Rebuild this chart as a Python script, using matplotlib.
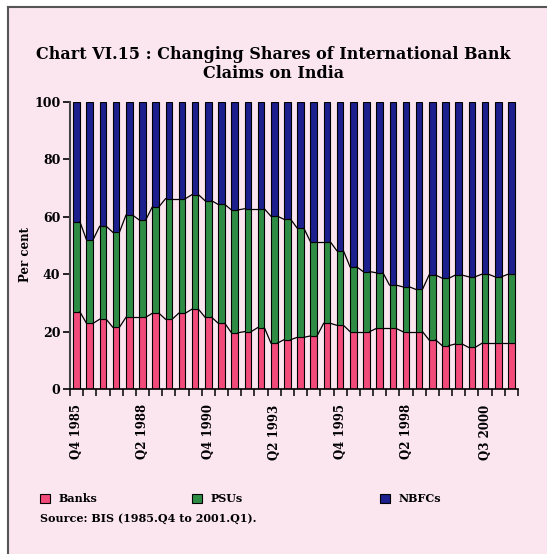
import matplotlib
matplotlib.use("Agg")
import matplotlib.pyplot as plt
from matplotlib.patches import Rectangle
from matplotlib.lines import Line2D
import numpy as np

# ---- data ----
periods = ["Q4 1985", "Q2 1986", "Q4 1986", "Q2 1987", "Q4 1987", "Q2 1988", "Q4 1988",
           "Q2 1989", "Q4 1989", "Q2 1990", "Q4 1990", "Q2 1991", "Q4 1991", "Q2 1992",
           "Q4 1992", "Q2 1993", "Q4 1993", "Q2 1994", "Q4 1994", "Q2 1995", "Q4 1995",
           "Q2 1996", "Q4 1996", "Q2 1997", "Q4 1997", "Q2 1998", "Q4 1998", "Q2 1999",
           "Q4 1999", "Q1 2000", "Q2 2000", "Q3 2000", "Q4 2000", "Q1 2001"]
banks = [26.9, 22.9, 24.3, 21.5, 25.0, 25.0, 26.4, 24.3, 26.4, 27.8, 25.0, 22.9,
         19.6, 20.0, 21.4, 16.0, 17.2, 18.0, 18.5, 22.9, 22.2, 20.0, 20.0, 21.1,
         21.1, 20.0, 20.0, 17.1, 15.1, 15.7, 14.5, 15.9, 15.9, 15.9]
banks_plus_psus = [58.3, 52.0, 56.7, 54.6, 60.6, 58.9, 63.5, 66.3, 66.3, 67.7, 65.6, 64.3,
                   62.4, 62.8, 62.8, 60.2, 59.1, 56.0, 51.3, 51.3, 48.2, 42.6, 40.9, 40.5,
                   36.2, 35.6, 34.7, 39.7, 38.6, 39.7, 39.1, 40.0, 39.1, 40.0]
psus = [round(t - b, 1) for t, b in zip(banks_plus_psus, banks)]
nbfcs = [round(100 - t, 1) for t in banks_plus_psus]
labelled = ["Q4 1985", "Q2 1988", "Q4 1990", "Q2 1993", "Q4 1995", "Q2 1998", "Q3 2000"]
series_names = ["Banks", "PSUs", "NBFCs"]

title = "Chart VI.15 : Changing Shares of International Bank\nClaims on India"
source = "Source: BIS (1985.Q4 to 2001.Q1)."

# ---- style ----
BG = "#fbe6ef"
C_BANK = "#f24a7a"
C_PSU = "#2f8c45"
C_NBFC = "#1d1f8e"
SERIF = ["DejaVu Serif"]

W, H = 547, 554
fig = plt.figure(figsize=(W / 100, H / 100), dpi=100)
fig.patch.set_facecolor("white")

# background panel with frame on left/top
fig.patches.append(Rectangle((8 / W, 0), 1 - 8 / W, 1 - 7 / H, transform=fig.transFigure,
                             facecolor=BG, edgecolor="none", zorder=-10))
fig.lines.append(Line2D([8 / W, 8 / W], [0, 1 - 7 / H], transform=fig.transFigure,
                        color="#555555", lw=1.5, zorder=-5))
fig.lines.append(Line2D([8 / W, 1], [1 - 7 / H, 1 - 7 / H], transform=fig.transFigure,
                        color="#555555", lw=1.5, zorder=-5))

ax = fig.add_axes([70 / W, 1 - 389 / H, (518 - 70) / W, (389 - 102) / H])
ax.set_zorder(1)
ax.set_facecolor("none")

n = len(periods)
x = np.arange(n)
bw = 0.5
ax.bar(x, banks, bw, color=C_BANK, edgecolor="black", lw=0.8, zorder=2)
ax.bar(x, psus, bw, bottom=banks, color=C_PSU, edgecolor="black", lw=0.8, zorder=2)
ax.bar(x, nbfcs, bw, bottom=banks_plus_psus, color=C_NBFC, edgecolor="black", lw=0.8, zorder=2)

# series lines
for top in (banks, banks_plus_psus):
    for i in range(n - 1):
        ax.plot([x[i] + bw / 2, x[i + 1] - bw / 2], [top[i], top[i + 1]],
                color="black", lw=0.9, zorder=3)

ax.set_xlim(-0.5, n - 0.5)
ax.set_ylim(0, 100)

for s in ("top", "right"):
    ax.spines[s].set_visible(False)
ax.spines["left"].set_color("#444444")
ax.spines["left"].set_linewidth(1.5)
ax.spines["bottom"].set_color("black")
ax.spines["bottom"].set_linewidth(1.2)

ax.set_yticks(range(0, 101, 20))
ax.set_yticklabels([str(v) for v in range(0, 101, 20)], fontfamily=SERIF,
                   fontweight="bold", fontsize=9)
ax.tick_params(axis="y", length=5, width=1.2, pad=2)

idx = [periods.index(p) for p in labelled]
ax.set_xticks(idx)
ax.set_xticklabels(labelled, rotation=90, fontfamily=SERIF, fontweight="bold", fontsize=8.5)
ax.tick_params(axis="x", which="major", length=0, pad=11)
ax.set_xticks(np.arange(-0.5, n, 1.0), minor=True)
ax.tick_params(axis="x", which="minor", length=5, width=1.1)

ax.set_ylabel("Per cent", fontfamily=SERIF, fontweight="bold", fontsize=8.5)
ax.yaxis.set_label_coords(-0.085, 0.47)

fig.text(0.5, 1 - 64 / H, title, ha="center", va="center", fontfamily=SERIF,
         fontweight="bold", fontsize=11.5, linespacing=1.2)

# legend
items = [(40, C_BANK, series_names[0]), (192, C_PSU, series_names[1]), (380, C_NBFC, series_names[2])]
for px, col, name in items:
    fig.patches.append(Rectangle((px / W, 1 - 503 / H), 10 / W, 9 / H,
                                 transform=fig.transFigure, facecolor=col,
                                 edgecolor="black", lw=0.8, zorder=3))
    fig.text((px + 19) / W, 1 - 498 / H, name, ha="left", va="center",
             fontfamily=SERIF, fontweight="bold", fontsize=8)

fig.text(40 / W, 1 - 519 / H, source, ha="left", va="center", fontfamily=SERIF,
         fontweight="bold", fontsize=8)

fig.savefig("out.png", dpi=100, facecolor=fig.get_facecolor())
